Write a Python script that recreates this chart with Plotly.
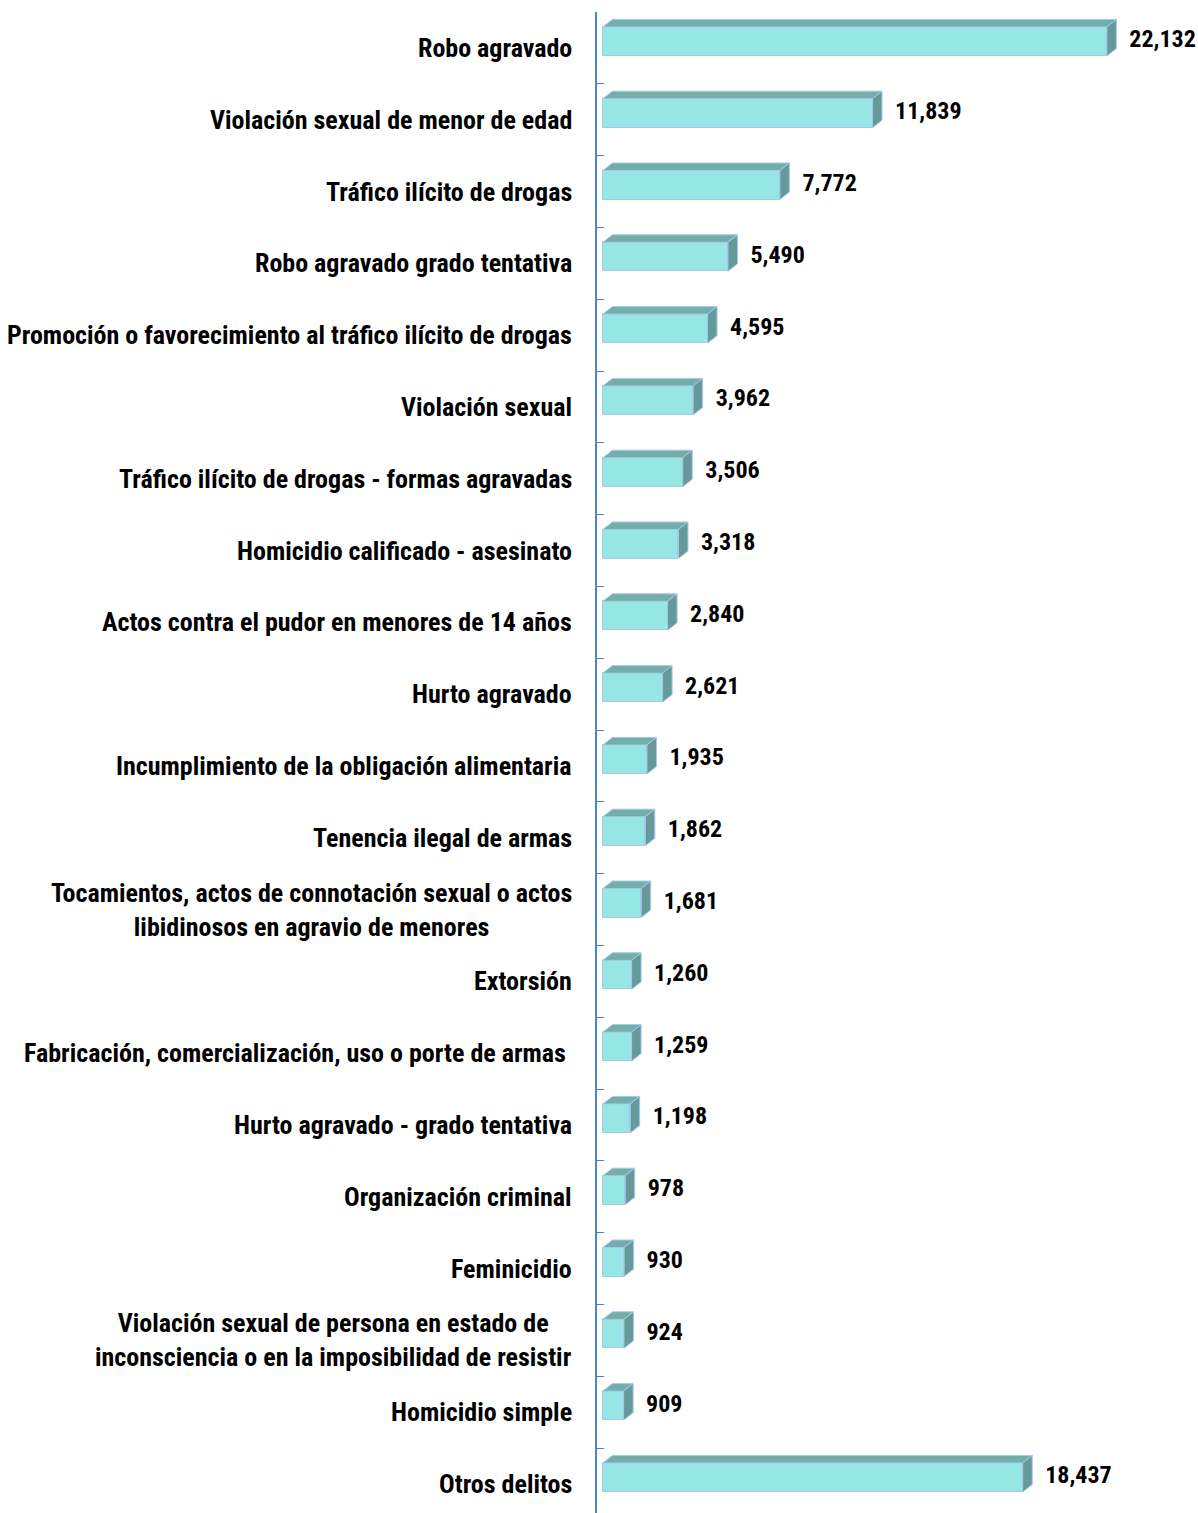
import plotly.graph_objects as go

categories = [
    "Robo agravado",
    "Violación sexual de menor de edad",
    "Tráfico ilícito de drogas",
    "Robo agravado grado tentativa",
    "Promoción o favorecimiento al tráfico ilícito de drogas",
    "Violación sexual",
    "Tráfico ilícito de drogas - formas agravadas",
    "Homicidio calificado - asesinato",
    "Actos contra el pudor en menores de 14 años",
    "Hurto agravado",
    "Incumplimiento de la obligación alimentaria",
    "Tenencia ilegal de armas",
    "Tocamientos, actos de connotación sexual o actos<br>libidinosos en agravio de menores",
    "Extorsión",
    "Fabricación, comercialización, uso o porte de armas\u00a0",
    "Hurto agravado - grado tentativa",
    "Organización criminal",
    "Feminicidio",
    "Violación sexual de persona en estado de<br>inconsciencia o en la imposibilidad de resistir",
    "Homicidio simple",
    "Otros delitos",
]
values = [22132, 11839, 7772, 5490, 4595, 3962, 3506, 3318, 2840, 2621,
          1935, 1862, 1681, 1260, 1259, 1198, 978, 930, 924, 909, 18437]

FONT = "Roboto Condensed, DejaVu Sans Condensed, sans-serif"
LABEL_SIZE = 26
VALUE_SIZE = 24
FRONT = "#96E6E4"
TOP = "#72AEAA"
SIDE = "#66999A"
EDGE = "#A6C8EA"
AXIS = "#4A86C5"

W, H = 1198, 1513
ML, MT = 597, 12
XMIN, XMAX = -260, 26134
YTOP, YBOT = -0.5, 20.405
pxx = (W - ML) / (XMAX - XMIN)
pxy = (H - MT) / (YBOT - YTOP)

shift = 6.5 / pxy
half = 14.5 / pxy
dx = 9.5 / pxx
dy = 7.5 / pxy
gap = 13 / pxx

n = len(values)
ypos = list(range(n))
fc = [y - shift for y in ypos]

fig = go.Figure()

fig.add_trace(go.Bar(
    x=values, y=fc, orientation="h", width=2 * half, base=0,
    marker=dict(color=FRONT, line=dict(color=EDGE, width=1)),
    hoverinfo="skip", showlegend=False,
))

tx, ty, sx, sy = [], [], [], []
for v, c in zip(values, fc):
    t, b = c - half, c + half
    tx += [0, v, v + dx, dx, 0, None]
    ty += [t, t, t - dy, t - dy, t, None]
    sx += [v, v + dx, v + dx, v, v, None]
    sy += [t, t - dy, b - dy, b, t, None]
fig.add_trace(go.Scatter(x=tx, y=ty, fill="toself", fillcolor=TOP, mode="lines",
                         line=dict(color=EDGE, width=1), hoverinfo="skip", showlegend=False))
fig.add_trace(go.Scatter(x=sx, y=sy, fill="toself", fillcolor=SIDE, mode="lines",
                         line=dict(color=EDGE, width=1), hoverinfo="skip", showlegend=False))

fig.add_trace(go.Scatter(
    x=[v + dx + gap for v in values], y=fc, mode="text",
    text=[f"{v:,}" for v in values], textposition="middle right",
    textfont=dict(family=FONT, size=VALUE_SIZE, color="#000000", weight="bold"),
    hoverinfo="skip", showlegend=False, cliponaxis=False,
))

annotations = []
for y, cat in zip(ypos, categories):
    annotations.append(dict(
        x=0, xref="paper", y=y, yref="y", text=cat, showarrow=False,
        xanchor="right", yanchor="middle", xshift=-23, align="center",
        font=dict(family=FONT, size=LABEL_SIZE, color="#000000", weight="bold"),
    ))

fig.update_layout(
    width=W, height=H,
    margin=dict(l=ML, r=0, t=MT, b=0, pad=0),
    plot_bgcolor="white", paper_bgcolor="white",
    annotations=annotations,
    xaxis=dict(range=[XMIN, XMAX], showgrid=False, zeroline=False,
               showticklabels=False, ticks="", showline=False),
    yaxis=dict(range=[YBOT, YTOP], showgrid=False, zeroline=False,
               tickmode="array", tickvals=[i - 0.5 for i in range(n + 1)],
               ticktext=["" for _ in range(n + 1)], ticks="inside", ticklen=7,
               tickcolor=AXIS, tickwidth=1, showline=True, linecolor=AXIS, linewidth=2),
    bargap=0,
)

fig.write_html(
    "out.html",
    config={"displayModeBar": False},
    post_script="document.body.style.margin='0';document.body.style.overflow='hidden';",
)
